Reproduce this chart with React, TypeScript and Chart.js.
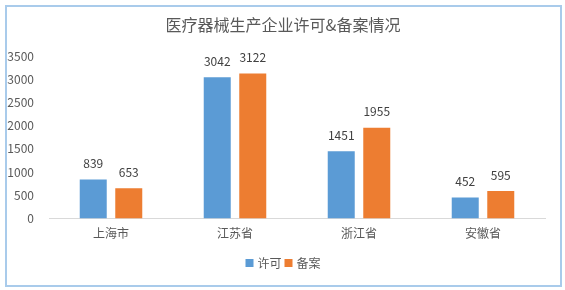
import React, { useEffect, useRef } from "react";
import { Chart, registerables } from "chart.js";

Chart.register(...registerables);

const categories = ["上海市", "江苏省", "浙江省", "安徽省"];
const licenseValues = [839, 3042, 1451, 452];
const filingValues = [653, 3122, 1955, 595];
const seriesNames = ["许可", "备案"];
const yTicksMax = 3500;
const yTickStep = 500;
const chartTitle = "医疗器械生产企业许可&备案情况";

const FONT = '"Microsoft YaHei", "Noto Sans CJK SC", "Noto Sans", sans-serif';
const TEXT = "#595959";

const valueLabels = {
  id: "valueLabels",
  afterDatasetsDraw(chart: any) {
    const ctx = chart.ctx;
    ctx.save();
    ctx.font = `12px ${FONT}`;
    ctx.fillStyle = "#404040";
    ctx.textAlign = "center";
    ctx.textBaseline = "middle";
    chart.data.datasets.forEach((ds: any, i: number) => {
      const meta = chart.getDatasetMeta(i);
      meta.data.forEach((el: any, j: number) => {
        ctx.fillText(String(ds.data[j]), el.x, el.y - 16);
      });
    });
    ctx.restore();
  },
};

const titleAndLegend = {
  id: "titleAndLegend",
  afterDraw(chart: any) {
    const ctx = chart.ctx;
    ctx.save();
    ctx.textBaseline = "middle";
    ctx.textAlign = "center";
    ctx.fillStyle = TEXT;
    ctx.font = `16px ${FONT}`;
    ctx.fillText(chartTitle, 283, 25);

    ctx.font = `12px ${FONT}`;
    ctx.textAlign = "left";
    const box = 8;
    const gapBoxText = 4;
    const gapItems = 3;
    const items = chart.data.datasets.map((ds: any) => ({
      text: ds.label,
      color: ds.backgroundColor,
      w: box + gapBoxText + ctx.measureText(ds.label).width,
    }));
    const total = items.reduce((s: number, it: any) => s + it.w, 0) + gapItems * (items.length - 1);
    let x = 283 - total / 2;
    const y = 263;
    items.forEach((it: any) => {
      ctx.fillStyle = it.color;
      ctx.fillRect(x, y - box / 2, box, box);
      ctx.fillStyle = TEXT;
      ctx.fillText(it.text, x + box + gapBoxText, y);
      x += it.w + gapItems;
    });
    ctx.restore();
  },
};

export default function App() {
  const ref = useRef<HTMLCanvasElement>(null);
  useEffect(() => {
    if (!ref.current) return;
    const chart = new Chart(ref.current, {
      type: "bar",
      data: {
        labels: categories,
        datasets: [
          {
            label: seriesNames[0],
            data: licenseValues,
            backgroundColor: "#5B9BD5",
            categoryPercentage: 0.573,
            barPercentage: 0.76,
          },
          {
            label: seriesNames[1],
            data: filingValues,
            backgroundColor: "#ED7D31",
            categoryPercentage: 0.573,
            barPercentage: 0.76,
          },
        ],
      },
      options: {
        responsive: false,
        animation: false,
        layout: { padding: { left: 0, right: 20, top: 56, bottom: 49 } },
        plugins: {
          legend: { display: false },
          tooltip: { enabled: false },
          title: { display: false },
        },
        scales: {
          x: {
            grid: { display: false },
            border: { display: true, color: "#D9D9D9", width: 1 },
            ticks: { color: TEXT, font: { family: FONT, size: 12 }, padding: 0 },
          },
          y: {
            min: 0,
            max: yTicksMax,
            grid: { display: false },
            border: { display: false },
            ticks: {
              stepSize: yTickStep,
              color: TEXT,
              font: { family: FONT, size: 12 },
              padding: 7,
              callback: (v: any) => String(v),
            },
            afterFit(scale: any) {
              scale.width = 49;
            },
          },
        },
      },
      plugins: [valueLabels, titleAndLegend],
    });
    return () => chart.destroy();
  }, []);
  return (
    <div style={{ position: "fixed", left: 0, top: 0, width: 565, height: 290, background: "#fff" }}>
      <canvas ref={ref} width={565} height={290} style={{ position: "absolute", left: 0, top: 0 }} />
      <div
        style={{
          position: "absolute",
          left: 5,
          top: 5,
          width: 553,
          height: 278,
          border: "2px solid #A9CBEB",
          pointerEvents: "none",
        }}
      />
    </div>
  );
}
